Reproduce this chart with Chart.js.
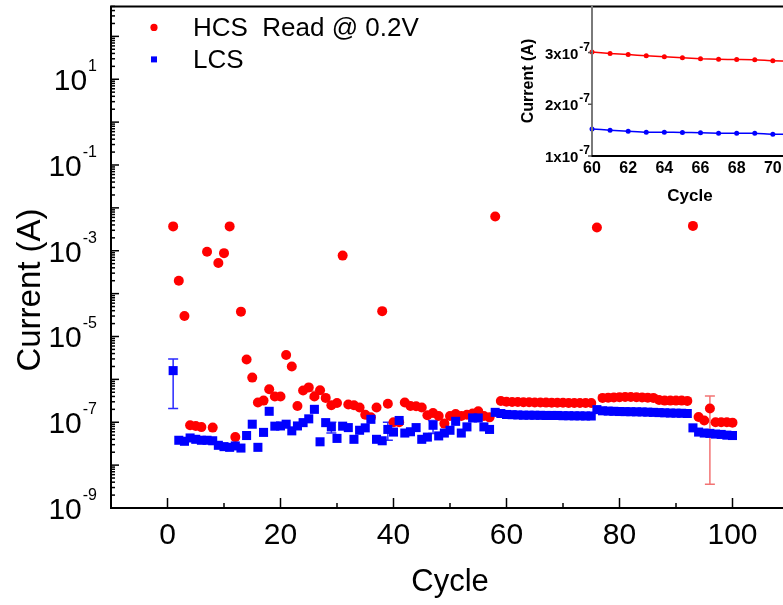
<!DOCTYPE html>
<html><head><meta charset="utf-8">
<script src="https://cdn.jsdelivr.net/npm/chart.js@4"></script>
<style>
html,body{margin:0;padding:0;background:#fff;overflow:hidden;width:783px;height:605px;}
#wrap{position:relative;width:783px;height:605px;overflow:hidden;background:#fff;}
#main{position:absolute;left:0;top:0;}
#inset{position:absolute;left:500px;top:0;}
</style></head><body>
<div id="wrap">
<canvas id="main" width="800" height="605"></canvas>
<canvas id="inset" width="320" height="215"></canvas>
</div>
<script>
// ---------- data ----------
const cycles = [1,2,3,4,5,6,7,8,9,10,11,12,13,14,15,16,17,18,19,20,21,22,23,24,25,26,27,28,29,30,31,32,33,34,35,36,37,38,39,40,41,42,43,44,45,46,47,48,49,50,51,52,53,54,55,56,57,58,59,60,61,62,63,64,65,66,67,68,69,70,71,72,73,74,75,76,77,78,79,80,81,82,83,84,85,86,87,88,89,90,91,92,93,94,95,96,97,98,99,100];
const hcsCurrent = [3.7e-3,2.0e-4,3.0e-5,8.5e-8,8.2e-8,7.7e-8,9.5e-4,7.5e-8,5.2e-4,8.8e-4,
  3.7e-3,4.5e-8,3.8e-5,2.9e-6,1.1e-6,2.9e-7,3.2e-7,5.9e-7,4.0e-7,4.0e-7,
  3.7e-6,2.0e-6,2.4e-7,5.5e-7,6.5e-7,4.0e-7,5.6e-7,3.7e-7,2.5e-7,2.8e-7,
  7.7e-4,2.6e-7,2.5e-7,2.2e-7,1.5e-7,1.3e-7,2.2e-7,3.9e-5,2.7e-7,1.0e-7,
  1.0e-7,2.9e-7,2.4e-7,2.35e-7,2.2e-7,1.46e-7,1.64e-7,1.4e-7,9.3e-8,1.4e-7,
  1.55e-7,1.4e-7,1.5e-7,1.6e-7,1.8e-7,1.4e-7,1.3e-7,6.3e-3,3.12e-7,3.01e-7,
  2.98e-7,2.96e-7,2.94e-7,2.92e-7,2.90e-7,2.88e-7,2.87e-7,2.865e-7,2.86e-7,2.84e-7,
  2.83e-7,2.82e-7,2.81e-7,2.80e-7,2.80e-7,3.5e-3,3.7e-7,3.75e-7,3.8e-7,3.85e-7,
  3.9e-7,3.88e-7,3.85e-7,3.8e-7,3.75e-7,3.7e-7,3.3e-7,3.2e-7,3.2e-7,3.2e-7,
  3.2e-7,3.15e-7,3.8e-3,1.33e-7,1.1e-7,2.1e-7,1.0e-7,1.0e-7,1.0e-7,9.8e-8];
const lcsCurrent = [1.6e-6,3.8e-8,3.6e-8,4.3e-8,4.0e-8,3.8e-8,3.8e-8,3.7e-8,2.9e-8,2.7e-8,
  2.6e-8,2.8e-8,2.5e-8,4.9e-8,9.0e-8,2.6e-8,5.8e-8,1.8e-7,8.1e-8,8.2e-8,
  9.0e-8,6.3e-8,8.2e-8,9.8e-8,1.2e-7,2.0e-7,3.5e-8,9.8e-8,7.8e-8,4.2e-8,
  8.1e-8,7.5e-8,4.0e-8,6.5e-8,7.4e-8,1.17e-7,4.0e-8,3.7e-8,6.8e-8,5.9e-8,
  1.1e-7,5.6e-8,6.0e-8,7.5e-8,4.0e-8,4.5e-8,8.5e-8,4.8e-8,5.6e-8,6.5e-8,
  1.05e-7,5.6e-8,7.8e-8,1.26e-7,1.26e-7,7.8e-8,6.8e-8,1.7e-7,1.6e-7,1.52e-7,
  1.50e-7,1.48e-7,1.46e-7,1.46e-7,1.455e-7,1.45e-7,1.44e-7,1.44e-7,1.44e-7,1.42e-7,
  1.42e-7,1.41e-7,1.41e-7,1.40e-7,1.40e-7,1.97e-7,1.85e-7,1.82e-7,1.80e-7,1.78e-7,
  1.77e-7,1.76e-7,1.75e-7,1.74e-7,1.72e-7,1.70e-7,1.68e-7,1.66e-7,1.64e-7,1.63e-7,
  1.62e-7,1.60e-7,7.4e-8,5.9e-8,5.6e-8,5.5e-8,5.3e-8,5.2e-8,5.0e-8,4.9e-8];
const hcsErrCycles = [26, 96];
const hcsErrLow = [3.7e-7, 3.6e-9];
const hcsErrHigh = [5.3e-7, 4.1e-7];
const lcsErrCycles = [1, 29, 39, 47];
const lcsErrLow = [2.1e-7, 5.6e-8, 3.8e-8, 5.5e-8];
const lcsErrHigh = [3.0e-6, 1.0e-7, 1.0e-7, 1.1e-7];
const seriesLabels = ['HCS  Read @ 0.2V', 'LCS'];
const xTickValues = [0, 20, 40, 60, 80, 100];
const yLabelExponents = [1, -1, -3, -5, -7, -9];
const insetCycles = [60,61,62,63,64,65,66,67,68,69,70,71,72];
const insetXTicks = [60, 62, 64, 66, 68, 70, 72];
const insetYTicks = [1e-7, 2e-7, 3e-7];
const insetYTickLabels = [['1x10','-7'], ['2x10','-7'], ['3x10','-7']];

const FONT = '"Liberation Sans", Arial, sans-serif';
const RED = '#ff0000', BLUE = '#0000ff';

// ---------- main chart plugins ----------
const errorBars = {
  id: 'errorBars',
  beforeDatasetsDraw(chart) {
    const {ctx, scales: {x, y}} = chart;
    const draw = (cs, lo, hi, color) => {
      ctx.strokeStyle = color; ctx.lineWidth = 1.5;
      cs.forEach((c, i) => {
        const px = x.getPixelForValue(c);
        const y1 = y.getPixelForValue(lo[i]), y2 = y.getPixelForValue(hi[i]);
        ctx.beginPath();
        ctx.moveTo(px, y1); ctx.lineTo(px, y2);
        ctx.moveTo(px - 5, y1); ctx.lineTo(px + 5, y1);
        ctx.moveTo(px - 5, y2); ctx.lineTo(px + 5, y2);
        ctx.stroke();
      });
    };
    ctx.save();
    draw(hcsErrCycles, hcsErrLow, hcsErrHigh, 'rgba(240,90,90,0.85)');
    draw(lcsErrCycles, lcsErrLow, lcsErrHigh, '#2a2aff');
    ctx.restore();
  }
};

const mainAxes = {
  id: 'mainAxes',
  afterDraw(chart) {
    const {ctx, chartArea: a, scales: {x, y}} = chart;
    ctx.save();
    ctx.strokeStyle = '#000'; ctx.lineWidth = 2;
    ctx.beginPath();
    ctx.moveTo(a.left, a.bottom + 1); ctx.lineTo(a.left, a.top); ctx.lineTo(chart.width, a.top);
    ctx.moveTo(a.left - 1, a.bottom); ctx.lineTo(a.right, a.bottom); ctx.lineTo(a.right, a.top);
    ctx.stroke();
    // y ticks (inward)
    ctx.lineWidth = 1.5;
    for (let e = -9; e <= 2; e++) {
      for (let k = 1; k <= 9; k++) {
        const v = k * Math.pow(10, e);
        if (v < y.min * 0.999 || v > y.max) continue;
        const py = y.getPixelForValue(v);
        const len = k === 1 ? 8 : 4;
        ctx.beginPath(); ctx.moveTo(a.left, py); ctx.lineTo(a.left + len, py); ctx.stroke();
      }
    }
    // x ticks (inward)
    for (let v = -10; v <= 110; v += 10) {
      const px = x.getPixelForValue(v);
      const len = v % 20 === 0 ? 10 : 5;
      ctx.beginPath(); ctx.moveTo(px, a.bottom); ctx.lineTo(px, a.bottom - len); ctx.stroke();
    }
    ctx.fillStyle = '#000';
    // x tick labels
    ctx.font = '30px ' + FONT; ctx.textAlign = 'center'; ctx.textBaseline = 'alphabetic';
    xTickValues.forEach(v => ctx.fillText(String(v), x.getPixelForValue(v), a.bottom + 36));
    // y tick labels 10^n
    yLabelExponents.forEach(e => {
      const py = y.getPixelForValue(Math.pow(10, e));
      const rightEdge = a.left - 14;
      ctx.textAlign = 'right';
      ctx.font = '16px ' + FONT;
      const es = String(e);
      const ew = ctx.measureText(es).width;
      ctx.fillText(es, rightEdge, py - 8);
      ctx.font = '30px ' + FONT;
      ctx.fillText('10', rightEdge - ew - 1, py + 11);
    });
    // axis titles
    ctx.textAlign = 'center';
    ctx.font = '31px ' + FONT;
    ctx.fillText('Cycle', x.getPixelForValue(50), a.bottom + 83);
    ctx.save();
    ctx.translate(31, 290); ctx.rotate(-Math.PI / 2);
    ctx.font = '33px ' + FONT; ctx.textBaseline = 'middle';
    ctx.fillText('Current (A)', 0, 0);
    ctx.restore();
    // legend
    const lx = a.left + 43;
    ctx.fillStyle = RED;
    ctx.beginPath(); ctx.arc(lx, a.top + 21, 3.6, 0, Math.PI * 2); ctx.fill();
    ctx.fillStyle = BLUE;
    ctx.fillRect(lx - 3, a.top + 53 - 3, 6, 6);
    ctx.fillStyle = '#000';
    ctx.font = '26px ' + FONT; ctx.textAlign = 'left'; ctx.textBaseline = 'alphabetic';
    ctx.fillText(seriesLabels[0], a.left + 82, a.top + 30);
    ctx.fillText(seriesLabels[1], a.left + 82, a.top + 62);
    ctx.restore();
  }
};

new Chart(document.getElementById('main'), {
  type: 'scatter',
  data: {
    datasets: [
      { label: seriesLabels[0], data: cycles.map((c, i) => ({x: c, y: hcsCurrent[i]})),
        pointStyle: 'circle', pointRadius: 5, backgroundColor: RED, borderColor: RED, borderWidth: 0, order: 1, clip: false },
      { label: seriesLabels[1], data: cycles.map((c, i) => ({x: c, y: lcsCurrent[i]})),
        pointStyle: 'rect', pointRadius: 6.4, backgroundColor: BLUE, borderColor: BLUE, borderWidth: 0, order: 0, clip: false }
    ]
  },
  options: {
    responsive: false, animation: false, devicePixelRatio: 1,
    layout: { padding: { left: 111, top: 6, right: 11, bottom: 97 } },
    scales: {
      x: { type: 'linear', min: -10, max: 110, display: false },
      y: { type: 'logarithmic', min: 1e-9, max: 500, display: false }
    },
    plugins: { legend: { display: false }, tooltip: { enabled: false } }
  },
  plugins: [errorBars, mainAxes]
});

// ---------- inset ----------
const insetAxes = {
  id: 'insetAxes',
  afterDraw(chart) {
    const {ctx, chartArea: a, scales: {x, y}} = chart;
    ctx.save();
    ctx.lineWidth = 2;
    ctx.strokeStyle = '#7a7a7a';
    ctx.beginPath(); ctx.moveTo(a.left, a.top); ctx.lineTo(a.left, a.bottom); ctx.stroke();
    ctx.strokeStyle = '#000';
    ctx.beginPath(); ctx.moveTo(a.left - 1, a.bottom); ctx.lineTo(chart.width, a.bottom); ctx.stroke();
    ctx.lineWidth = 1.5; ctx.strokeStyle = '#555';
    insetYTicks.forEach(v => {
      const py = y.getPixelForValue(v);
      ctx.beginPath(); ctx.moveTo(a.left, py); ctx.lineTo(a.left - 4, py); ctx.stroke();
    });
    ctx.fillStyle = '#000';
    ctx.textBaseline = 'alphabetic';
    insetYTicks.forEach((v, i) => {
      const py = y.getPixelForValue(v);
      const [base, ex] = insetYTickLabels[i];
      ctx.textAlign = 'right';
      ctx.font = 'bold 12px ' + FONT;
      const ew = ctx.measureText(ex).width;
      ctx.fillText(ex, a.left - 2, py - 2);
      ctx.font = 'bold 15px ' + FONT;
      ctx.fillText(base, a.left - 3 - ew, py + 6);
    });
    ctx.textAlign = 'center';
    ctx.font = 'bold 16px ' + FONT;
    insetXTicks.forEach(v => ctx.fillText(String(v), x.getPixelForValue(v), a.bottom + 17));
    ctx.font = 'bold 17px ' + FONT;
    ctx.fillText('Cycle', 190, a.bottom + 45);
    ctx.save();
    ctx.translate(29, 81); ctx.rotate(-Math.PI / 2);
    ctx.textBaseline = 'middle';
    ctx.font = 'bold 16px ' + FONT;
    ctx.fillText('Current (A)', 0, 0);
    ctx.restore();
    ctx.restore();
  }
};

new Chart(document.getElementById('inset'), {
  type: 'line',
  data: {
    datasets: [
      { data: insetCycles.map(c => ({x: c, y: hcsCurrent[cycles.indexOf(c)]})),
        borderColor: RED, backgroundColor: RED, borderWidth: 1.5, pointRadius: 2.5,
        pointBackgroundColor: RED, pointBorderWidth: 0, tension: 0.2, clip: false },
      { data: insetCycles.map(c => ({x: c, y: lcsCurrent[cycles.indexOf(c)]})),
        borderColor: BLUE, backgroundColor: BLUE, borderWidth: 1.5, pointRadius: 2.5,
        pointBackgroundColor: BLUE, pointBorderWidth: 0, tension: 0.2, clip: false }
    ]
  },
  options: {
    responsive: false, animation: false, devicePixelRatio: 1,
    layout: { padding: { left: 92, top: 6, right: 11, bottom: 59 } },
    scales: {
      x: { type: 'linear', min: 60, max: 72, display: false },
      y: { type: 'linear', min: 1e-7, max: 3.9e-7, display: false }
    },
    plugins: { legend: { display: false }, tooltip: { enabled: false } }
  },
  plugins: [insetAxes]
});
</script>
</body></html>
